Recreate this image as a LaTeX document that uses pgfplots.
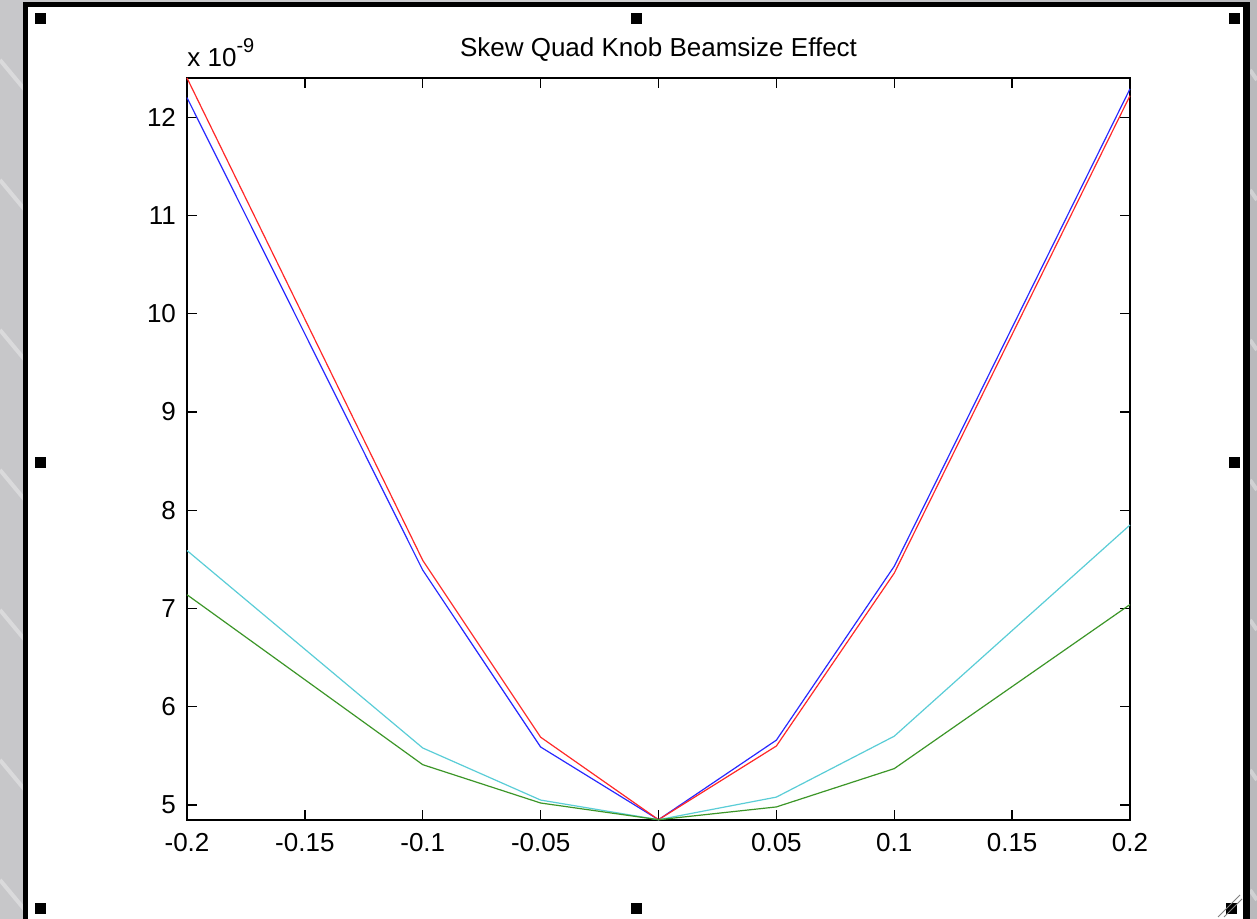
\documentclass[border=0pt]{standalone}
\usepackage{pgfplots}
\pgfplotsset{compat=1.18}
\usepackage{fontspec}
\setmainfont{Liberation Sans}
\definecolor{mblue}{RGB}{40,40,255}
\definecolor{mred}{RGB}{255,40,40}
\definecolor{mcyan}{RGB}{90,205,215}
\definecolor{mgreen}{RGB}{60,150,40}
\definecolor{metal}{RGB}{185,185,188}
\begin{document}
\begin{tikzpicture}
\path[use as bounding box] (0,0) rectangle (628.5pt,459.5pt);
\begin{scope}[x=0.5pt,y=-0.5pt,yshift=459.5pt]
  \shade[left color=metal!80!white, right color=metal, middle color=metal!70!white] (0,0) rectangle (1257,919);
  \foreach \a in {60,180,330,470,610,760,880}{
    \draw[white,opacity=0.35,line width=2pt] (0,\a) -- (25,\a+30);
    \draw[white,opacity=0.35,line width=2pt] (1250,\a+10) -- (1257,\a+20);
  }
  \fill[black] (23,2) rectangle (1250,925);
  \fill[white] (28,7) rectangle (1243,919);
  \foreach \cx/\cy in {40/19,636/19,1234/19,40/463,1234/463,40/909,636/909}{
    \fill[black] (\cx-5.5,\cy-5.5) rectangle (\cx+5.5,\cy+5.5);
  }
  \fill[black] (1226,903) rectangle (1237,914);
  \draw[gray] (1218,917) -- (1240,895);
  \draw[gray] (1224,917) -- (1242,899);
\end{scope}
\begin{axis}[
  at={(93.5pt,49.5pt)}, anchor=south west,
  scale only axis, width=471.5pt, height=371pt,
  xmin=-0.2, xmax=0.2, ymin=4.847, ymax=12.40,
  xtick={-0.2,-0.15,-0.1,-0.05,0,0.05,0.1,0.15,0.2},
  xticklabels={-0.2,-0.15,-0.1,-0.05,0,0.05,0.1,0.15,0.2},
  ytick={5,6,7,8,9,10,11,12},
  yticklabels={5,6,7,8,9,10,11,12},
  tick align=inside, major tick length=5pt,
  xtick pos=both, ytick pos=both,
  tick style={black, line width=0.7pt},
  axis line style={black, line width=0.8pt},
  ticklabel style={font=\fontsize{13}{15}\selectfont},
  xticklabel style={yshift=-3pt},
  yticklabel style={xshift=-2pt},
  title={Skew Quad Knob Beamsize Effect},
  title style={at={(0.5,1)}, anchor=base, yshift=4.5pt, font=\fontsize{13}{15}\selectfont},
  axis background/.style={fill=white},
  clip=false,
]
\addplot[mblue, line width=0.6pt] coordinates {(-0.2,12.20) (-0.1,7.39) (-0.05,5.59) (0,4.85) (0.05,5.66) (0.1,7.43) (0.2,12.29)};
\addplot[mred, line width=0.6pt] coordinates {(-0.2,12.40) (-0.1,7.49) (-0.05,5.69) (0,4.85) (0.05,5.60) (0.1,7.36) (0.2,12.22)};
\addplot[mcyan, line width=0.6pt] coordinates {(-0.2,7.59) (-0.1,5.58) (-0.05,5.05) (0,4.85) (0.05,5.08) (0.1,5.70) (0.2,7.85)};
\addplot[mgreen, line width=0.6pt] coordinates {(-0.2,7.14) (-0.1,5.41) (-0.05,5.02) (0,4.85) (0.05,4.98) (0.1,5.37) (0.2,7.04)};
\node[anchor=base west, inner sep=0pt, font=\fontsize{13}{15}\selectfont] at (rel axis cs:0,1) [yshift=5.5pt] {x 10\raisebox{0.55em}{\fontsize{10}{12}\selectfont -9}};
\end{axis}
\end{tikzpicture}
\end{document}
